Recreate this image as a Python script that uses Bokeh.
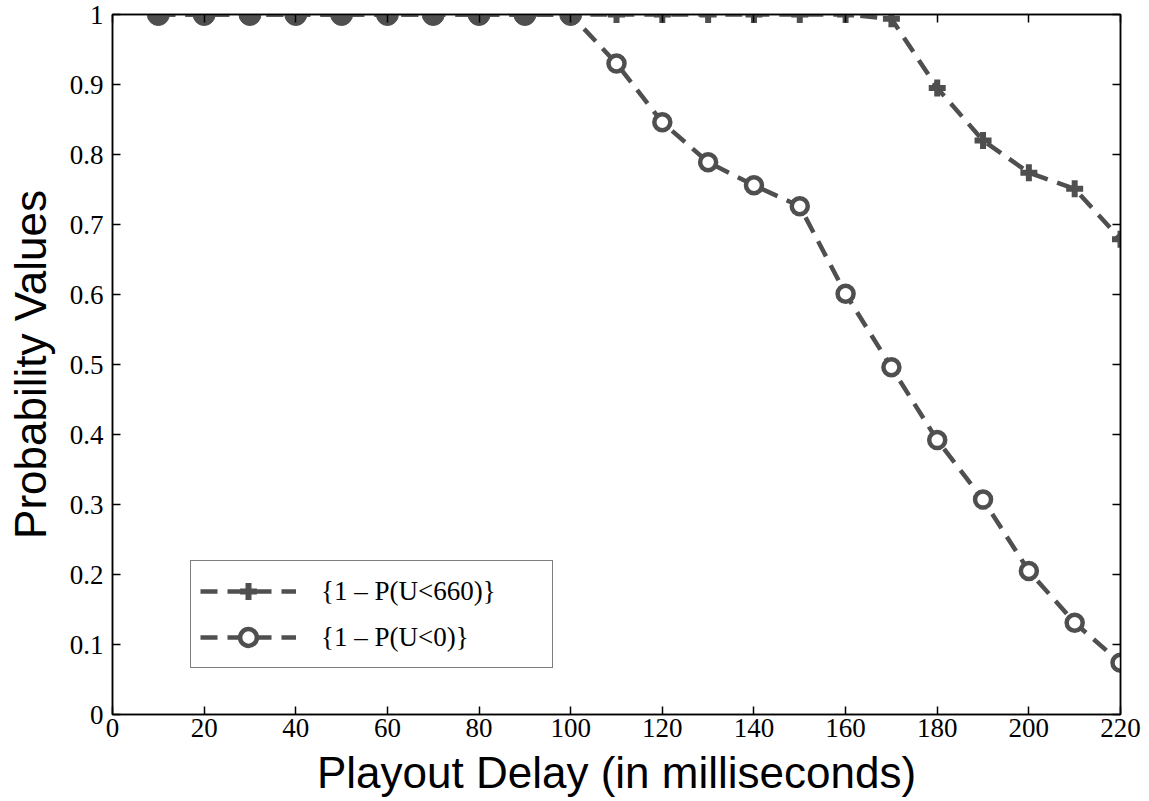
from bokeh.plotting import figure
from bokeh.models import (ColumnDataSource, FixedTicker, LinearAxis, Legend,
                          LegendItem, CustomJSTickFormatter)
from bokeh.embed import file_html
from bokeh.resources import INLINE

# Playout delay (ms) and the two probability curves
delay = [10, 20, 30, 40, 50, 60, 70, 80, 90, 100, 110, 120, 130, 140, 150, 160,
         170, 180, 190, 200, 210, 220]
p_u660 = [1.0, 1.0, 1.0, 1.0, 1.0, 1.0, 1.0, 1.0, 1.0, 1.0, 1.0, 1.0, 1.0, 1.0,
          1.0, 1.0, 0.994, 0.895, 0.820, 0.774, 0.751, 0.679]
p_u0 = [1.0, 1.0, 1.0, 1.0, 1.0, 1.0, 1.0, 1.0, 1.0, 1.0, 0.930, 0.846, 0.789,
        0.756, 0.726, 0.601, 0.496, 0.392, 0.307, 0.205, 0.131, 0.074]
# delays where both curves are still at 1 (drawn as solid dots)
n_common = 10

x_ticks = [0, 20, 40, 60, 80, 100, 120, 140, 160, 180, 200, 220]
y_ticks = [0, 0.1, 0.2, 0.3, 0.4, 0.5, 0.6, 0.7, 0.8, 0.9, 1.0]

GREY = "#4f4f4f"
SERIF = "Liberation Serif"
SANS = "Liberation Sans"

p = figure(width=1149, height=801, x_range=(0, 220), y_range=(0, 1),
           output_backend="svg", toolbar_location=None,
           min_border_left=112, min_border_right=29,
           min_border_top=14, min_border_bottom=87)
p.grid.visible = False
p.outline_line_color = "black"
p.outline_line_width = 1.5
p.background_fill_color = "white"
p.border_fill_color = "white"

fmt = CustomJSTickFormatter(code="return (Math.round(tick*10)/10).toString();")
blank = CustomJSTickFormatter(code="return '';")

for ax in p.xaxis:
    ax.ticker = FixedTicker(ticks=x_ticks)
for ax in p.yaxis:
    ax.ticker = FixedTicker(ticks=y_ticks)
    ax.formatter = fmt

for ax in list(p.xaxis) + list(p.yaxis):
    ax.major_tick_in = 8
    ax.major_tick_out = 0
    ax.minor_tick_line_color = None
    ax.major_tick_line_color = "black"
    ax.major_tick_line_width = 1.5
    ax.axis_line_color = "black"
    ax.axis_line_width = 1.5
    ax.major_label_text_font = SERIF
    ax.major_label_text_font_size = "27px"
    ax.major_label_text_color = "black"
    ax.axis_label_text_font = SANS
    ax.axis_label_text_font_size = "44px"
    ax.axis_label_text_font_style = "normal"
    ax.axis_label_text_color = "black"

p.xaxis.axis_label = "Playout Delay (in milliseconds)"
p.xaxis.major_label_standoff = 4
p.xaxis.axis_label_standoff = 8
p.yaxis.axis_label = "Probability Values"
p.yaxis.major_label_standoff = 9
p.yaxis.axis_label_standoff = 12

# inward ticks on the top and right edges of the box
top = LinearAxis(ticker=FixedTicker(ticks=x_ticks), formatter=blank,
                 major_tick_in=8, major_tick_out=0, minor_tick_line_color=None,
                 major_tick_line_width=1.5, major_label_standoff=0,
                 axis_line_width=1.5)
right = LinearAxis(ticker=FixedTicker(ticks=y_ticks), formatter=blank,
                   major_tick_in=8, major_tick_out=0,
                   minor_tick_line_color=None, major_tick_line_width=1.5,
                   major_label_standoff=0, axis_line_width=1.5)
p.add_layout(top, "above")
p.add_layout(right, "right")

src = ColumnDataSource(dict(x=delay, a=p_u660, b=p_u0))
common = ColumnDataSource(dict(x=delay[:n_common], y=p_u0[:n_common]))

dash = "17 10"
l_a = p.line("x", "a", source=src, line_color=GREY, line_width=4.5,
             line_dash=dash)
l_b = p.line("x", "b", source=src, line_color=GREY, line_width=4.5,
             line_dash=dash)
m_b = p.scatter("x", "b", source=src, marker="circle", size=16,
                fill_color="white", line_color=GREY, line_width=4.5)
m_a = p.scatter("x", "a", source=src, marker="cross", size=17,
                line_color=GREY, line_width=6)
p.scatter("x", "y", source=common, marker="circle", size=22,
          fill_color=GREY, line_color=GREY)

legend = Legend(items=[
    LegendItem(label="{1 \u2013 P(U<660)}", renderers=[l_a, m_a]),
    LegendItem(label="{1 \u2013 P(U<0)}", renderers=[l_b, m_b]),
], location=(78, 46))
legend.border_line_color = "black"
legend.border_line_width = 1.5
legend.background_fill_color = "white"
legend.background_fill_alpha = 1
legend.label_text_font = SERIF
legend.label_text_font_size = "27px"
legend.label_text_color = "black"
legend.glyph_width = 96
legend.glyph_height = 42
legend.label_height = 27
legend.label_standoff = 25
legend.label_width = 222
legend.padding = 9
legend.spacing = 4
legend.margin = 0
p.add_layout(legend, "center")

open("out.html", "w").write(file_html(p, INLINE))
